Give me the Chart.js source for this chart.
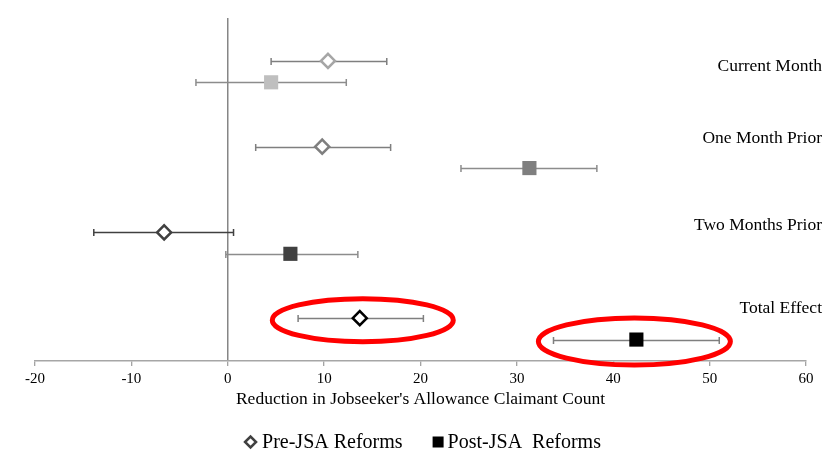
<!DOCTYPE html>
<html>
<head>
<meta charset="utf-8">
<script src="https://cdn.jsdelivr.net/npm/chart.js@4"></script>
<style>
html,body{margin:0;padding:0;background:#fff;}
#wrap{width:831px;height:452px;position:relative;}
</style>
</head>
<body>
<div id="wrap"><canvas id="c"></canvas></div>
<script>
const categories = ['Current Month', 'One Month Prior', 'Two Months Prior', 'Total Effect'];
const preEst  = [10.4, 9.8, -6.6, 13.7];
const preLow  = [4.5, 2.9, -13.9, 7.3];
const preHigh = [16.5, 16.9, 0.6, 20.3];
const postEst  = [4.5, 31.3, 6.5, 42.4];
const postLow  = [-3.3, 24.2, -0.2, 33.8];
const postHigh = [12.3, 38.3, 13.5, 51.0];
const xTicks = [-20, -10, 0, 10, 20, 30, 40, 50, 60];
const seriesNames = ['Pre-JSA Reforms', 'Post-JSA  Reforms'];
const axisTitle = "Reduction in Jobseeker's Allowance Claimant Count";

// styles
const preBorder = ['#a6a6a6', '#7f7f7f', '#404040', '#000000'];
const postFill = ['#bfbfbf', '#7f7f7f', '#404040', '#000000'];
const preErrColor = ['#7f7f7f', '#7f7f7f', '#404040', '#7f7f7f'];
const postErrColor = ['#8c8c8c', '#8c8c8c', '#8c8c8c', '#7f7f7f'];
const labelOffsetPx = [5.5, -8, -7, -10];
const SERIF = '"Liberation Serif", "Times New Roman", serif';

const preData = categories.map((c, i) => ({x: preEst[i], y: 3.5 - i}));
const postData = categories.map((c, i) => ({x: postEst[i], y: 3.25 - i}));

function diamond(ctx, x, y, r) {
  ctx.beginPath();
  ctx.moveTo(x - r, y); ctx.lineTo(x, y - r); ctx.lineTo(x + r, y); ctx.lineTo(x, y + r);
  ctx.closePath();
}

const overlay = {
  id: 'overlay',
  beforeDatasetsDraw(chart) {
    const ctx = chart.ctx, xs = chart.scales.x, ys = chart.scales.y;
    ctx.save();
    ctx.lineWidth = 1.5;
    const bars = (lo, hi, off, colors) => {
      categories.forEach((c, i) => {
        const y = Math.round(ys.getPixelForValue(off - i)) + 0.5;
        const x1 = xs.getPixelForValue(lo[i]), x2 = xs.getPixelForValue(hi[i]);
        ctx.strokeStyle = colors[i];
        ctx.beginPath();
        ctx.moveTo(x1, y); ctx.lineTo(x2, y);
        ctx.moveTo(x1, y - 3.5); ctx.lineTo(x1, y + 3.5);
        ctx.moveTo(x2, y - 3.5); ctx.lineTo(x2, y + 3.5);
        ctx.stroke();
      });
    };
    bars(preLow, preHigh, 3.5, preErrColor);
    bars(postLow, postHigh, 3.25, postErrColor);
    ctx.restore();
  },
  afterDraw(chart) {
    const ctx = chart.ctx, xs = chart.scales.x, ys = chart.scales.y, area = chart.chartArea;
    ctx.save();
    // category labels on right
    ctx.font = '17.5px ' + SERIF;
    ctx.fillStyle = '#000';
    ctx.textAlign = 'right';
    ctx.textBaseline = 'middle';
    categories.forEach((c, i) => {
      ctx.fillText(c, 822, ys.getPixelForValue(3.5 - i) + labelOffsetPx[i]);
    });
    // red ellipses around total effect
    ctx.strokeStyle = '#ff0000';
    ctx.lineWidth = 5;
    const last = categories.length - 1;
    ctx.beginPath();
    ctx.ellipse(xs.getPixelForValue(preEst[last]) + 3, ys.getPixelForValue(3.5 - last) + 2, 90.5, 21.5, 0, 0, Math.PI * 2);
    ctx.stroke();
    ctx.beginPath();
    ctx.ellipse(xs.getPixelForValue(postEst[last]) - 2, ys.getPixelForValue(3.25 - last) + 2, 96, 23.5, 0, 0, Math.PI * 2);
    ctx.stroke();

    // legend
    ctx.font = '20px ' + SERIF;
    ctx.textAlign = 'left';
    ctx.textBaseline = 'middle';
    const boxW = 13, gapText = 5, gapItems = 29;
    const w0 = ctx.measureText(seriesNames[0]).width;
    const w1 = ctx.measureText(seriesNames[1]).width;
    const total = boxW + gapText + w0 + gapItems + boxW + gapText + w1;
    let lx = (area.left + area.right) / 2 - total / 2 + 3;
    const ly = 442;
    ctx.lineWidth = 2.5;
    ctx.strokeStyle = '#404040';
    ctx.fillStyle = '#ffffff';
    diamond(ctx, lx + boxW / 2, ly, 5.5);
    ctx.fill(); ctx.stroke();
    ctx.fillStyle = '#000';
    ctx.fillText(seriesNames[0], lx + boxW + gapText, ly + 1);
    lx += boxW + gapText + w0 + gapItems;
    ctx.fillStyle = '#000';
    ctx.fillRect(lx + 1, ly - 5.5, 11, 11);
    ctx.fillText(seriesNames[1], lx + boxW + gapText - 2, ly + 1);
    ctx.restore();
  }
};

new Chart(document.getElementById('c'), {
  type: 'scatter',
  data: {
    datasets: [
      {
        label: seriesNames[0],
        data: preData,
        pointStyle: 'rectRot',
        pointRadius: 7,
        pointHoverRadius: 7,
        pointBorderWidth: 2.5,
        pointBackgroundColor: '#ffffff',
        pointBorderColor: preBorder
      },
      {
        label: seriesNames[1],
        data: postData,
        pointStyle: 'rect',
        pointRadius: 10,
        pointHoverRadius: 10,
        pointBorderWidth: 0,
        pointBackgroundColor: postFill,
        pointBorderColor: postFill
      }
    ]
  },
  options: {
    responsive: true,
    maintainAspectRatio: false,
    animation: false,
    layout: {padding: {left: 35, right: 25, top: 18, bottom: 42}},
    scales: {
      x: {
        type: 'linear',
        min: -20, max: 60,
        afterBuildTicks(axis) { axis.ticks = xTicks.map(v => ({value: v})); },
        ticks: {
          font: {family: SERIF, size: 15},
          color: '#000',
          padding: 4
        },
        grid: {
          color: ctx => (ctx.tick && ctx.tick.value === 0) ? '#868686' : 'rgba(0,0,0,0)',
          lineWidth: 1.5,
          drawTicks: true,
          tickLength: 5,
          tickColor: '#868686',
          tickWidth: 1
        },
        border: {display: true, color: '#a6a6a6', width: 1.5},
        title: {
          display: true,
          text: axisTitle,
          font: {family: SERIF, size: 17.5},
          color: '#000',
          padding: {top: -3, bottom: 0}
        }
      },
      y: {
        display: false,
        min: 0, max: 4
      }
    },
    plugins: {
      tooltip: {enabled: false},
      legend: {display: false}
    }
  },
  plugins: [overlay]
});
</script>
</body>
</html>
